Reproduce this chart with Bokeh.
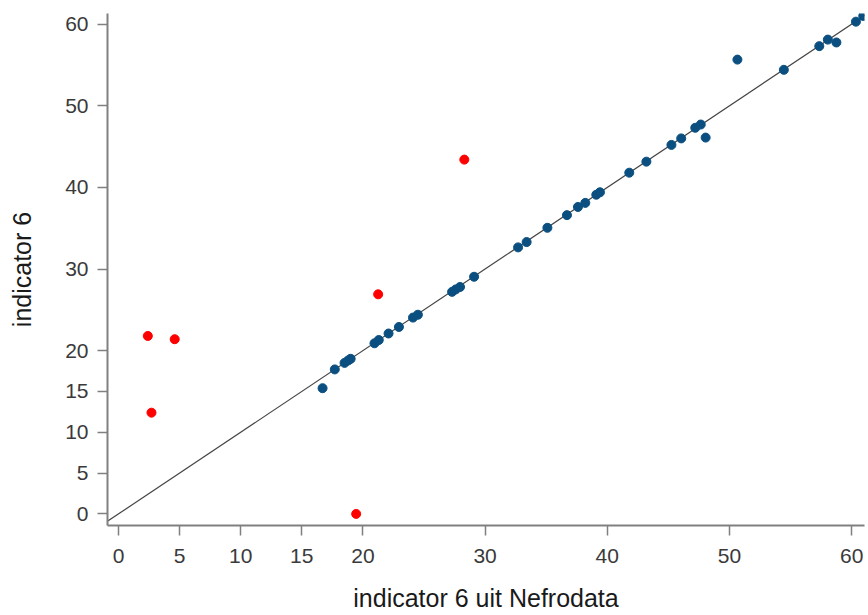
from bokeh.plotting import figure
from bokeh.models import FixedTicker, Range1d
from bokeh.embed import file_html
from bokeh.resources import INLINE

# data
blue_x = [16.7, 17.7, 18.5, 18.8, 19.0, 20.95, 21.3, 22.1, 22.95, 24.1, 24.5,
          27.3, 27.6, 27.95, 29.1, 32.7, 33.4, 35.1, 36.7, 37.6, 38.2, 39.1, 39.4,
          41.8, 43.2, 45.25, 46.05, 47.2, 47.65, 48.05, 50.65, 54.45, 57.35, 58.05,
          58.75, 60.35, 60.95]
blue_y = [15.4, 17.7, 18.5, 18.8, 19.0, 20.9, 21.3, 22.1, 22.9, 24.05, 24.4,
          27.2, 27.5, 27.8, 29.05, 32.65, 33.3, 35.05, 36.6, 37.6, 38.1, 39.1, 39.4,
          41.8, 43.15, 45.2, 46.0, 47.3, 47.7, 46.1, 55.65, 54.4, 57.3, 58.1,
          57.75, 60.3, 61.0]
red_x = [2.4, 4.6, 2.7, 19.45, 21.25, 28.3]
red_y = [21.8, 21.4, 12.4, 0.0, 26.9, 43.4]
identity = [-2.0, 62.0]
ticks = [0, 5, 10, 15, 20, 30, 40, 50, 60]

p = figure(width=868, height=615, output_backend="svg", toolbar_location=None,
           x_range=Range1d(-0.9, 61.05), y_range=Range1d(-1.42, 61.3),
           min_border_left=107, min_border_right=4, min_border_top=13,
           min_border_bottom=90)
p.outline_line_color = None
p.xgrid.visible = False
p.ygrid.visible = False
p.background_fill_color = "white"

p.line(identity, identity, line_color="#444444", line_width=1.2)
p.scatter(blue_x, blue_y, size=9, fill_color="#0b4f80", line_color="#0b4f80")
p.scatter(red_x, red_y, size=9, fill_color="#ff0000", line_color="#ff0000")

for ax in (p.xaxis[0], p.yaxis[0]):
    ax.ticker = FixedTicker(ticks=ticks)
    ax.axis_line_color = "#808080"
    ax.axis_line_width = 2
    ax.major_tick_line_color = "#808080"
    ax.major_tick_line_width = 1.5
    ax.major_tick_out = 10
    ax.major_tick_in = 0
    ax.minor_tick_line_color = None
    ax.major_label_text_font = "Liberation Sans"
    ax.major_label_text_font_size = "21px"
    ax.major_label_text_color = "#3a3a3a"
    ax.axis_label_text_font = "Liberation Sans"
    ax.axis_label_text_font_size = "25px"
    ax.axis_label_text_font_style = "normal"
    ax.axis_label_text_color = "#1a1a1a"

p.xaxis.axis_label = "indicator 6 uit Nefrodata"
p.yaxis.axis_label = "indicator 6"
p.xaxis.major_label_standoff = 13
p.yaxis.major_label_standoff = 9
p.xaxis.axis_label_standoff = 18
p.yaxis.axis_label_standoff = 26

open("out.html", "w").write(file_html(p, INLINE))
